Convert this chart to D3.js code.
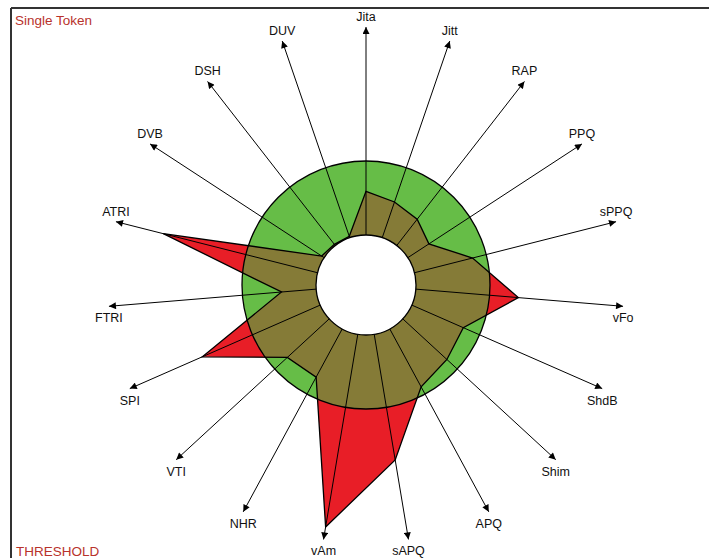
<!DOCTYPE html>
<html>
<head>
<meta charset="utf-8">
<script src="https://cdn.jsdelivr.net/npm/d3@7"></script>
<style>
  body { margin: 0; background: #fff; }
  svg { display: block; }
  text { font-family: "Liberation Sans", Arial, sans-serif; }
</style>
</head>
<body>
<div id="chart"></div>
<script>
// axes, clockwise from the top
const axes = ["Jita", "Jitt", "RAP", "PPQ", "sPPQ", "vFo", "ShdB", "Shim", "APQ", "sAPQ",
  "vAm", "NHR", "VTI", "SPI", "FTRI", "ATRI", "DVB", "DSH", "DUV"]
// values relative to threshold (1 = threshold circle)
const values = [0.59, 0.51, 0.45, 0.34, 0.81, 1.39, 0.76, 0.81, 0.89, 1.72,
  2.64, 0.74, 0.77, 1.74, 0.47, 2.15, 0.04, 0.02, 0.02]
const threshold = 1
const axisMax = 2.81

const width = 709
const height = 558
const cx = 366, cy = 285

const svg = d3.select('#chart').append('svg')
  .attr('width', width)
  .attr('height', height)

// frame
svg.append('line').attr('x1', 11).attr('y1', 8).attr('x2', 11).attr('y2', height)
  .attr('stroke', '#333').attr('stroke-width', 2)
svg.append('line').attr('x1', 11).attr('y1', 8).attr('x2', width).attr('y2', 8)
  .attr('stroke', '#333').attr('stroke-width', 2)

svg.append('text').attr('x', 15).attr('y', 25)
  .attr('fill', '#b8322c').attr('font-size', 13.5)
  .text('Single Token')
svg.append('text').attr('x', 16).attr('y', 556)
  .attr('fill', '#b8322c').attr('font-size', 13.5)
  .text('THRESHOLD')

const r = d3.scaleLinear().domain([0, 1]).range([50, 124])
const angle = d3.scaleLinear().domain([0, axes.length]).range([0, 2 * Math.PI])

const g = svg.append('g').attr('transform', `translate(${cx},${cy})`)

const green = '#66bd47'
const olive = '#857b37'
const red = '#e81e27'

// threshold ring
g.append('circle').attr('r', r(threshold)).attr('fill', green)

const radar = d3.lineRadial()
  .angle((d, i) => angle(i))
  .radius(d => r(d))
  .curve(d3.curveLinearClosed)

g.append('path').attr('d', radar(values)).attr('fill', red)

svg.append('defs').append('clipPath').attr('id', 'thr')
  .append('circle').attr('r', r(threshold))

g.append('path').attr('d', radar(values)).attr('fill', olive)
  .attr('clip-path', 'url(#thr)')

g.append('circle').attr('r', r(threshold)).attr('fill', 'none')
  .attr('stroke', '#000').attr('stroke-width', 1.3)
g.append('path').attr('d', radar(values)).attr('fill', 'none')
  .attr('stroke', '#000').attr('stroke-width', 1.3)

g.append('circle').attr('r', r(0)).attr('fill', '#fff')
  .attr('stroke', '#000').attr('stroke-width', 1.3)

// arrows
svg.select('defs').append('marker')
  .attr('id', 'arrow')
  .attr('markerUnits', 'userSpaceOnUse')
  .attr('viewBox', '0 0 10 10')
  .attr('refX', 10).attr('refY', 5)
  .attr('markerWidth', 8).attr('markerHeight', 7)
  .attr('orient', 'auto')
  .append('path').attr('d', 'M0,0L10,5L0,10Z').attr('fill', '#000')

const pt = (i, v) => {
  const a = angle(i)
  return [Math.sin(a) * r(v), -Math.cos(a) * r(v)]
}

axes.forEach((name, i) => {
  const p0 = pt(i, 0)
  const p1 = pt(i, axisMax)
  g.append('line')
    .attr('x1', p0[0]).attr('y1', p0[1])
    .attr('x2', p1[0]).attr('y2', p1[1])
    .attr('stroke', '#000').attr('stroke-width', 1)
    .attr('marker-end', 'url(#arrow)')
  const upper = Math.cos(angle(i)) > 0
  g.append('text')
    .attr('x', p1[0])
    .attr('y', p1[1] + (upper ? -10 : 12))
    .attr('text-anchor', 'middle')
    .attr('dominant-baseline', 'central')
    .attr('font-size', 12.5)
    .attr('fill', '#111')
    .text(name)
})
</script>
</body>
</html>
